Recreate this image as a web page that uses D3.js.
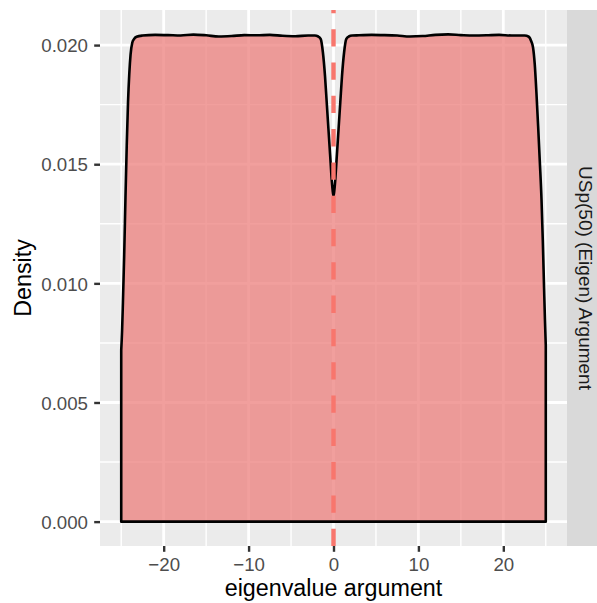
<!DOCTYPE html>
<html>
<head>
<meta charset="utf-8">
<script src="https://cdn.jsdelivr.net/npm/d3@7"></script>
<style>
  html, body { margin: 0; padding: 0; background: #ffffff; }
  svg { display: block; font-family: "Liberation Sans", Arial, Helvetica, sans-serif; }
</style>
</head>
<body>
<div id="chart"></div>
<script>
// ---------------- data ----------------
const argX = [
  -25.0, -24.9, -24.8, -24.65, -24.5, -24.35, -24.2, -24.05, -23.9, -23.7, -23.5, -23.2,
  -22.5, -21.0, -19.5, -18.0, -16.5, -15.0, -13.5, -12.0, -10.5, -9.0, -7.5, -6.0, -4.5, -3.0,
  -2.2, -1.8, -1.5, -1.25, -1.0, -0.8, -0.6, -0.4, -0.2, -0.1, 0.0, 0.1, 0.2, 0.4, 0.6, 0.8,
  1.0, 1.25, 1.5, 1.8, 2.2,
  3.0, 4.5, 6.0, 7.5, 9.0, 10.5, 12.0, 13.5, 15.0, 16.5, 18.0, 19.5, 21.0, 22.5,
  23.0, 23.3, 23.5, 23.7, 23.9, 24.1, 24.3, 24.5, 24.65, 24.8, 24.9, 25.0
];
const densityY = [
  0.0072, 0.0080, 0.0092, 0.0112, 0.0136, 0.0158, 0.0176, 0.0188, 0.0196, 0.0201, 0.02025, 0.02035,
  0.02040, 0.02043, 0.02042, 0.02040, 0.02044, 0.02041, 0.02036, 0.02038, 0.02042, 0.02041, 0.02043, 0.02039, 0.02037, 0.02040,
  0.02040, 0.02036, 0.02025, 0.0197, 0.0187, 0.0176, 0.0165, 0.0154, 0.0143, 0.0139, 0.01365, 0.0139, 0.0143, 0.0154, 0.0165, 0.0176,
  0.0187, 0.0197, 0.02025, 0.02036, 0.02040,
  0.02041, 0.02043, 0.02042, 0.02040, 0.02036, 0.02038, 0.02043, 0.02045, 0.02042, 0.02040, 0.02041, 0.02043, 0.02040, 0.02040,
  0.02035, 0.02015, 0.0199, 0.0192, 0.0180, 0.0166, 0.0151, 0.0135, 0.0118, 0.0098, 0.0085, 0.0074
];
const xMajorTicks = [-20, -10, 0, 10, 20];
const xTickLabels = ["\u221220", "\u221210", "0", "10", "20"];
const xMinorTicks = [-25, -15, -5, 5, 15, 25];
const yMajorTicks = [0, 0.005, 0.010, 0.015, 0.020];
const yTickLabels = ["0.000", "0.005", "0.010", "0.015", "0.020"];
const yMinorTicks = [0.0025, 0.0075, 0.0125, 0.0175];
const vlineAt = [0];
const stripLabel = "USp(50) (Eigen) Argument";
const xTitle = "eigenvalue argument";
const yTitle = "Density";

// ---------------- layout ----------------
const W = 597, H = 603;
const panel = { left: 100, right: 567, top: 10, bottom: 546 };
const strip = { left: 567, right: 600 };

const data = argX.map((x, i) => ({ x, d: densityY[i] }));

const xExt = d3.extent(argX);
const xPad = (xExt[1] - xExt[0]) * 0.05;
const yMax = d3.max(densityY);
const yPad = yMax * 0.05;

const x = d3.scaleLinear().domain([xExt[0] - xPad, xExt[1] + xPad]).range([panel.left, panel.right]);
const y = d3.scaleLinear().domain([0 - yPad, yMax + yPad]).range([panel.bottom, panel.top]);

const svg = d3.select("#chart").append("svg").attr("width", W).attr("height", H);

// panel background
svg.append("rect")
  .attr("x", panel.left).attr("y", panel.top)
  .attr("width", panel.right - panel.left).attr("height", panel.bottom - panel.top)
  .attr("fill", "#EBEBEB");

const grid = svg.append("g");
// minor grid
grid.selectAll(".xmin").data(xMinorTicks).join("line")
  .attr("x1", d => x(d)).attr("x2", d => x(d))
  .attr("y1", panel.top).attr("y2", panel.bottom)
  .attr("stroke", "#ffffff").attr("stroke-width", 1.4);
grid.selectAll(".ymin").data(yMinorTicks).join("line")
  .attr("y1", d => y(d)).attr("y2", d => y(d))
  .attr("x1", panel.left).attr("x2", panel.right)
  .attr("stroke", "#ffffff").attr("stroke-width", 1.4);
// major grid
grid.selectAll(".xmaj").data(xMajorTicks).join("line")
  .attr("x1", d => x(d)).attr("x2", d => x(d))
  .attr("y1", panel.top).attr("y2", panel.bottom)
  .attr("stroke", "#ffffff").attr("stroke-width", 2.8);
grid.selectAll(".ymaj").data(yMajorTicks).join("line")
  .attr("y1", d => y(d)).attr("y2", d => y(d))
  .attr("x1", panel.left).attr("x2", panel.right)
  .attr("stroke", "#ffffff").attr("stroke-width", 2.8);

// density area
const area = d3.area()
  .x(d => x(d.x))
  .y0(y(0))
  .y1(d => y(d.d))
  .curve(d3.curveMonotoneX);

svg.append("path")
  .datum(data)
  .attr("d", area)
  .attr("fill", "#EC7F7C")
  .attr("fill-opacity", 0.75)
  .attr("stroke", "#000000")
  .attr("stroke-width", 2.6)
  .attr("stroke-linejoin", "round");

// dashed vertical line at 0
svg.selectAll(".vline").data(vlineAt).join("line")
  .attr("x1", d => x(d)).attr("x2", d => x(d))
  .attr("y1", panel.bottom).attr("y2", panel.top)
  .attr("stroke", "#F8766D")
  .attr("stroke-width", 4.4)
  .attr("stroke-dasharray", "17.3,16");

// strip
svg.append("rect")
  .attr("x", strip.left).attr("y", panel.top)
  .attr("width", strip.right - strip.left).attr("height", panel.bottom - panel.top)
  .attr("fill", "#D9D9D9");
svg.append("text")
  .attr("transform", `translate(579,${(panel.top + panel.bottom) / 2}) rotate(90)`)
  .attr("text-anchor", "middle")
  .attr("font-size", 19)
  .attr("fill", "#1A1A1A")
  .text(stripLabel);

// x axis
const xAxis = d3.axisBottom(x)
  .tickValues(xMajorTicks)
  .tickFormat((d, i) => xTickLabels[i])
  .tickSize(5.8)
  .tickPadding(4);
const gx = svg.append("g").attr("transform", `translate(0,${panel.bottom})`).call(xAxis);
gx.select(".domain").remove();
gx.selectAll(".tick line").attr("stroke", "#333333").attr("stroke-width", 2.4);
gx.selectAll(".tick text")
  .attr("font-size", 18.7).attr("fill", "#4D4D4D")
  .attr("font-family", "Liberation Sans, Arial, sans-serif")
  .attr("dy", null).attr("y", 25);

// y axis
const yAxis = d3.axisLeft(y)
  .tickValues(yMajorTicks)
  .tickFormat((d, i) => yTickLabels[i])
  .tickSize(5.8)
  .tickPadding(6);
const gy = svg.append("g").attr("transform", `translate(${panel.left},0)`).call(yAxis);
gy.select(".domain").remove();
gy.selectAll(".tick line").attr("stroke", "#333333").attr("stroke-width", 2.4);
gy.selectAll(".tick text")
  .attr("font-size", 18.7).attr("fill", "#4D4D4D")
  .attr("font-family", "Liberation Sans, Arial, sans-serif")
  .attr("x", -12).attr("dy", "0.36em");

// axis titles
svg.append("text")
  .attr("x", (panel.left + panel.right) / 2).attr("y", 596)
  .attr("text-anchor", "middle")
  .attr("font-size", 23.3).attr("fill", "#000000")
  .text(xTitle);
svg.append("text")
  .attr("transform", `translate(30.5,${(panel.top + panel.bottom) / 2}) rotate(-90)`)
  .attr("text-anchor", "middle")
  .attr("font-size", 23.3).attr("fill", "#000000")
  .text(yTitle);
</script>
</body>
</html>
